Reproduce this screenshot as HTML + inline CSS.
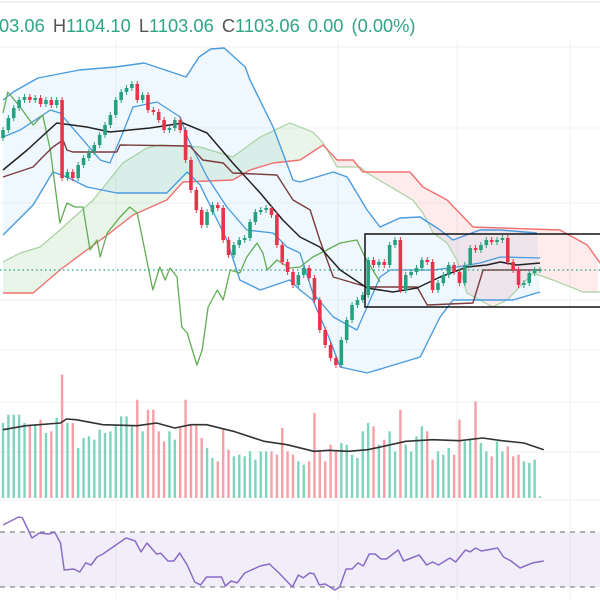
<!DOCTYPE html>
<html><head><meta charset="utf-8"><style>
html,body{margin:0;padding:0;background:#fff;width:600px;height:600px;overflow:hidden}
svg{display:block;font-family:"Liberation Sans",sans-serif}
</style></head><body>
<svg id="chart" width="600" height="600">
<line x1="0" y1="2" x2="600" y2="2" stroke="#ddd"/>
<g id="grid"></g>
<g id="main"></g>
<g id="vol"></g>
<g id="rsi"></g>
<text x="-1" y="32" font-size="18.3" word-spacing="3" fill="#2ea584">03.06 <tspan fill="#555">H</tspan>1104.10 <tspan fill="#555">L</tspan>1103.06 <tspan fill="#555">C</tspan>1103.06 0.00 (0.00%)</text>
<rect x="365" y="234" width="240" height="73" fill="none" stroke="#111" stroke-width="1.5"/>
</svg>
<script>
const closes=[1243,1255,1265,1273,1276,1273,1275,1269,1273,1268,1273,1195,1201,1195,1208,1215,1221,1228,1238,1248,1258,1273,1281,1285,1289,1273,1278,1263,1261,1253,1243,1245,1253,1243,1213,1183,1163,1148,1161,1168,1165,1133,1118,1128,1133,1135,1151,1161,1163,1165,1158,1128,1111,1101,1088,1098,1105,1095,1073,1043,1028,1015,1008,1033,1053,1068,1073,1078,1113,1108,1111,1108,1128,1133,1083,1098,1101,1105,1113,1111,1083,1090,1098,1108,1101,1090,1108,1125,1123,1128,1133,1131,1133,1135,1111,1103,1088,1090,1100,1103,1103];
const firstOpen=1235;
const volumes=[225,250,250,250,225,220,220,235,195,200,240,370,225,225,150,180,185,175,205,195,200,220,245,245,215,295,200,265,265,200,170,200,175,210,295,220,220,180,150,120,110,205,145,125,130,125,140,115,140,140,140,130,210,140,130,110,100,110,255,140,110,160,140,165,160,130,120,200,225,215,160,175,200,140,265,160,140,185,215,200,115,140,130,150,130,235,170,175,290,165,140,125,170,140,155,125,130,110,105,115,5];
const bbUpperIdx=[0,1.9,6.5,14.2,20.9,26.3,30.2,34.1,36.5,38.7,41.2,45.1,46,50.3,54,55.3,61.5,64.1,67.8,70.2,73.9,77.7,81.4,83.8,88.8,92.6,99.4];
const bbUpperVal=[1273,1281,1295,1303,1306,1310,1303,1296,1316,1324,1325,1306,1293,1246,1193,1191,1201,1196,1163,1146,1155,1156,1143,1133,1143,1143,1140];
const bbLowerIdx=[0,5.6,9.3,11.9,15.6,21.2,30.5,34.3,36.7,41.7,44.1,47.9,53.4,55.3,57.7,60.9,62.8,67.8,77.7,81.4,83.8,88.8,95,100];
const bbLowerVal=[1138,1168,1201,1196,1186,1180,1180,1201,1188,1133,1093,1083,1093,1083,1073,1033,1006,1000,1016,1056,1073,1073,1073,1081];
const innerIdx=[0,3.2,8.8,10.6,18.1,19.9,22.3,24.2,28.7,33,34.3,38,41.7,45.4,50.3,52.9,55.3,57.7,61.5,65.9,67.8,70.2,72.1,80.1,84.5,88.8,92.6,100];
const innerVal=[1236,1243,1263,1260,1213,1210,1240,1266,1271,1256,1236,1196,1166,1143,1140,1126,1120,1080,1056,1043,1066,1096,1103,1103,1106,1110,1116,1115];
const maIdx=[0,4.5,10,15.6,19.9,27.4,33.5,38,42.8,47.9,52.1,55.3,59,62.8,67.8,72.6,77.1,81.4,86.4,90.1,92.6,95.7,100];
const maVal=[1203,1223,1250,1246,1241,1245,1250,1240,1210,1180,1153,1136,1126,1103,1085,1081,1085,1096,1106,1108,1111,1108,1110];
const baseIdx=[0,5.6,7.4,9.3,11.2,11.9,13,21.2,21.8,34.8,37.2,41,42.8,51,54,57.2,59,61.5,67.8,77.1,79,87.5,89.4,100];
const baseVal=[1196,1206,1216,1226,1233,1223,1221,1221,1228,1227,1213,1210,1200,1198,1173,1163,1133,1096,1086,1086,1068,1070,1103,1103];
const spanBIdx=[0,5.6,10.6,15.6,19.9,24.2,30.5,33.5,42.8,46,50.3,55.3,59.6,62.2,65.2,67,75.8,78.2,82.7,87.5,103.7,108.8,111.2];
const spanBVal=[1080,1080,1103,1123,1140,1158,1173,1191,1193,1203,1210,1213,1228,1213,1213,1201,1201,1186,1173,1146,1143,1128,1110];
const spanAIdx=[0,3.2,6.9,10.6,16.8,22.3,26.8,29.2,36.7,42.8,47.9,53.4,57.7,59.6,62.2,66.5,67.8,76.3,78.2,80.1,82.7,84.5,86.4,91.2,93.9,98.7,102.4,108,111.2];
const spanAVal=[1111,1120,1126,1143,1173,1210,1225,1228,1226,1216,1236,1250,1241,1230,1206,1206,1200,1173,1160,1140,1130,1113,1080,1066,1073,1100,1093,1081,1081];
const lagIdx=[0,0.9,3.2,5.6,7.4,8.8,10.6,11.9,13.4,14.9,16.2,17.5,18.1,19.4,21.8,23.6,25,27.9,29.2,30.2,31.1,32.4,33.3,34.3,36.1,37.1,38.2,39.9,41,42.3,44.1,45.4,47.3,48.4,49.2,51,53.4,55.3,57.7,60.3,62.8,65.9,67.4,70.2];
const lagVal=[1260,1281,1266,1248,1258,1223,1150,1170,1166,1166,1123,1133,1116,1140,1156,1166,1160,1083,1106,1093,1105,1096,1046,1040,1008,1023,1066,1083,1073,1103,1100,1116,1130,1120,1103,1113,1105,1106,1116,1123,1130,1133,1116,1091];
const volMaIdx=[0,4.3,10.7,11.8,13.6,18.6,25,28.6,32,35,37.9,42.9,48.6,52.9,57.9,60.7,64.3,67.9,71.4,75,80,85,89.3,92.9,97,100.7];
const volMaVal=[205,217,225,237,235,220,217,225,210,220,220,200,170,160,140,143,140,145,157,170,175,172,180,172,165,145];
const rsiIdx=[0,2.9,3.6,5.4,6.8,8.6,9.6,10.7,11.4,13.2,14.3,15.4,16.4,17.5,18.6,22.9,24.6,25.7,26.8,28.6,29.4,30.7,31.8,32.9,34.3,35.7,36.8,37.9,40.7,41.4,42.5,43.6,45,47.9,49.6,51.4,53.9,55,55.9,57.1,57.9,58.9,60,61.8,62.7,63.9,65,66.1,67.1,68.2,69.3,70.4,71.4,73.6,74.6,77.5,78.9,80,81.1,83.2,84.3,86.1,87,88,89.1,92.1,93.2,94.6,96.3,98.6,100.7];
const rsiVal=[75.1,80.9,80.4,65.6,69.3,68.5,70,62,42.4,43.1,40.9,47.5,46,51.8,54,65.6,63.5,55.5,62,54,54.5,48.9,48.9,54.7,46,33.6,31.5,37.3,37.3,30.7,34.4,33,40.2,45.3,46.7,40.2,30,38.7,36.6,40.2,39.7,31.5,32.2,27.8,30,43.1,43.1,47.5,45.3,54,54,50.4,50.4,56.9,48.9,53.3,46,48.2,46,51.1,48.2,56.9,55.5,58.4,56.2,58.4,51.8,48.9,43.8,47.5,48.9];
const lastPrice=1103;
const rsiUpper=70, rsiLower=30;

const NS="http://www.w3.org/2000/svg";
const xS=i=>3+5.37*i;
const yS=p=>1373-p;
const vS=v=>498-v/3;
const rS=r=>532+(70-r)/40*55;
function mk(parent,tag,attrs){const e=document.createElementNS(NS,tag);for(const k in attrs)e.setAttribute(k,attrs[k]);parent.appendChild(e);return e;}
function pts(ix,vals,ys){return ix.map((d,i)=>xS(d).toFixed(1)+","+ys(vals[i]).toFixed(1)).join(" ");}
function interp(ix,vals,t){if(t<=ix[0])return vals[0];for(let i=1;i<ix.length;i++){if(t<=ix[i]){const f=(t-ix[i-1])/(ix[i]-ix[i-1]);return vals[i-1]+f*(vals[i]-vals[i-1]);}}return vals[vals.length-1];}

const grid=document.getElementById('grid');
[116,338,457,570].forEach(x=>{const l=mk(grid,'line',{x1:x,y1:40,x2:x,y2:600,stroke:'#f0f0f3'});

});
[47,128,203,300,350,402,452,500].forEach(y=>{const l=mk(grid,'line',{x1:0,y1:y,x2:600,y2:y,stroke:'#f2f2f5'});

});

const main=document.getElementById('main');
// cloud: contiguous polygons grouped by sign
const steps=[];for(let t=0;t<=111.2;t+=0.4)steps.push(t);
let seg=[],segUp=null;
function flush(){if(seg.length>1){const top=seg.map(s=>`${xS(s.t).toFixed(1)},${yS(s.a).toFixed(1)}`);const bot=seg.slice().reverse().map(s=>`${xS(s.t).toFixed(1)},${yS(s.b).toFixed(1)}`);
const q=mk(main,'polygon',{points:top.concat(bot).join(' '),fill:segUp?'rgba(76,175,80,0.13)':'rgba(242,54,69,0.10)'});

}}
steps.forEach(t=>{const a=interp(spanAIdx,spanAVal,t),b=interp(spanBIdx,spanBVal,t);const up=a>=b;
if(segUp!==null&&up!==segUp){seg.push({t,a,b});flush();seg=[{t,a,b}];}else seg.push({t,a,b});segUp=up;});
flush();
// bb fill
const bbFill=mk(main,'polygon',{points:pts(bbUpperIdx,bbUpperVal,yS)+" "+pts(bbLowerIdx.slice().reverse(),bbLowerVal.slice().reverse(),yS),fill:'rgba(33,150,243,0.07)'});


function line(ix,vals,ys,color,w,name,par){const p=mk(par||main,'polyline',{points:pts(ix,vals,ys),fill:'none',stroke:color,'stroke-width':w,'stroke-linejoin':'round'});

return p;}
line(spanAIdx,spanAVal,yS,'#a8d2a2',1.2,'span-a-line');
line(spanBIdx,spanBVal,yS,'#f07070',1.4,'span-b-line');
line(bbUpperIdx,bbUpperVal,yS,'#4a9be0',1.4,'bollinger-upper');
line(bbLowerIdx,bbLowerVal,yS,'#4a9be0',1.4,'bollinger-lower');
line(innerIdx,innerVal,yS,'#4a9be0',1.3,'inner-band');
line(lagIdx,lagVal,yS,'#62ad55',1.3,'lagging-span');
line(baseIdx,baseVal,yS,'#7a3c3c',1.4,'base-line');
line(maIdx,maVal,yS,'#222',1.5,'moving-average');
const pl=mk(main,'line',{x1:0,y1:yS(lastPrice),x2:600,y2:yS(lastPrice),stroke:'#26a17f','stroke-dasharray':'1.5 3','stroke-width':1.2});


// candles
closes.forEach((c,i)=>{const o=i?closes[i-1]:firstOpen;const up=c>=o;const col=up?'#26a17f':'#e8344a';const x=xS(i);
const g=mk(main,'g',{});


mk(g,'line',{x1:x,y1:yS(Math.max(o,c)+3),x2:x,y2:yS(Math.min(o,c)-3),stroke:col,'stroke-width':1});
mk(g,'rect',{x:x-1.8,y:yS(Math.max(o,c)),width:3.6,height:Math.max(1,Math.abs(c-o)),fill:col});});
// volume
const vol=document.getElementById('vol');
volumes.forEach((v,i)=>{const c=closes[i],o=i?closes[i-1]:firstOpen;const r=mk(vol,'rect',{x:xS(i)-1.2,y:vS(v),width:2.4,height:v/3,fill:c>=o?'#80d3bd':'#f5a0a7'});

});
line(volMaIdx,volMaVal,vS,'#333',1.6,'volume-ma',vol);
// rsi
const rsi=document.getElementById('rsi');
const band=mk(rsi,'rect',{x:0,y:rS(rsiUpper),width:600,height:rS(rsiLower)-rS(rsiUpper),fill:'rgba(126,87,194,0.10)'});


[rsiUpper,rsiLower].forEach(v=>{const l=mk(rsi,'line',{x1:0,y1:rS(v),x2:600,y2:rS(v),stroke:'#888','stroke-dasharray':'5 5','stroke-width':1.2});

});
line(rsiIdx,rsiVal,rS,'#8a6cc8',1.5,'rsi-line',rsi);
</script>
</body></html>
